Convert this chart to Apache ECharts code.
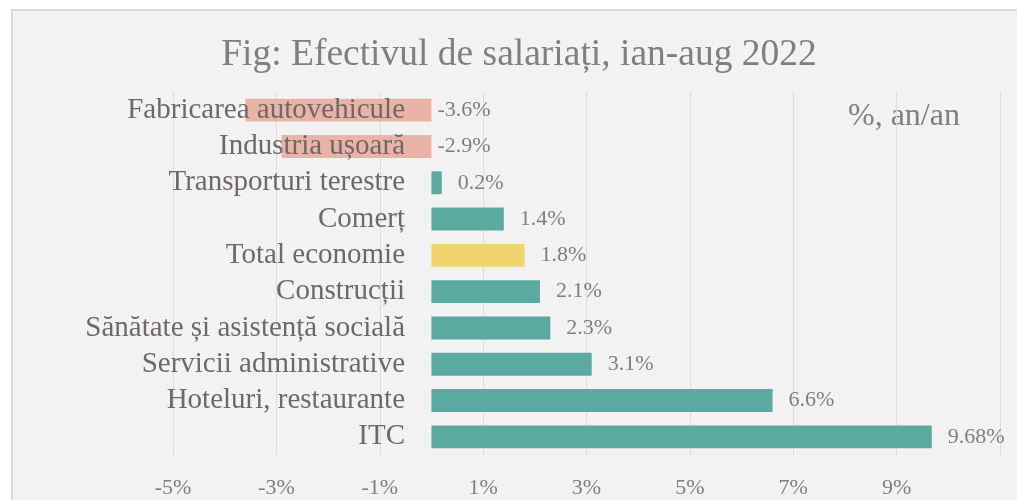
<!DOCTYPE html>
<html>
<head>
<meta charset="utf-8">
<script src="https://cdn.jsdelivr.net/npm/echarts@6/dist/echarts.min.js"></script>
<style>
  html, body { margin: 0; padding: 0; background: #ffffff; overflow: hidden; }
  #frame { position: absolute; left: 11px; top: 9px; width: 1030px; height: 520px;
           background: #f2f2f2; border: 2px solid #d9d9d9; box-sizing: border-box; }
  #chart { position: absolute; left: 0; top: 0; width: 1017px; height: 500px; }
</style>
</head>
<body>
<div id="frame"></div>
<div id="chart"></div>
<script>
// bottom to top, as the category axis draws them
const categories = ['ITC', 'Hoteluri, restaurante', 'Servicii administrative',
  'Sănătate și asistență socială', 'Construcții', 'Total economie', 'Comerț',
  'Transporturi terestre', 'Industria ușoară', 'Fabricarea autovehicule'];
const values = [9.68, 6.6, 3.1, 2.3, 2.1, 1.8, 1.4, 0.2, -2.9, -3.6];
const xTicks = [-5, -3, -1, 1, 3, 5, 7, 9];

const serif = 'Liberation Serif';
const chart = echarts.init(document.getElementById('chart'));

const barData = values.map((v, i) => {
  let color = '#5baaa1';
  if (v < 0) color = '#e9b3a7';
  if (categories[i] === 'Total economie') color = '#f2d46f';
  return {
    value: v,
    itemStyle: { color: color },
    label: { distance: v < 0 ? 6 : 16 }
  };
});

chart.setOption({
  backgroundColor: 'transparent',
  animation: false,
  title: {
    text: 'Fig: Efectivul de salariați, ian-aug 2022',
    left: 514,
    top: 31,
    textAlign: 'center',
    textStyle: { fontFamily: serif, fontSize: 37.5, fontWeight: 'normal', color: '#7f7f7f' }
  },
  graphic: [{
    type: 'text',
    left: 848,
    top: 101,
    style: { text: '%, an/an', font: '32px "Liberation Serif"', fill: '#7f7f7f' }
  }],
  grid: { left: 173, right: 17, top: 92, bottom: 45, containLabel: false, outerBoundsMode: 'none' },
  xAxis: {
    type: 'value',
    min: -5,
    max: 11,
    interval: 2,
    axisLine: { show: false },
    axisTick: { show: false },
    axisLabel: {
      margin: 22,
      fontFamily: serif, fontSize: 22, color: '#7f7f7f',
      formatter: v => xTicks.includes(v) ? v + '%' : ''
    },
    splitLine: { lineStyle: { color: '#dcdcdc', width: 1 } }
  },
  yAxis: {
    type: 'category',
    data: categories,
    // labels sit at the zero line, drawn over the negative bars
    offset: -258,
    z: 10,
    axisLine: { show: false, onZero: false },
    axisTick: { show: false },
    axisLabel: { interval: 0, margin: 26, fontFamily: serif, fontSize: 29, color: '#6e6868' }
  },
  series: [{
    type: 'bar',
    data: barData,
    barCategoryGap: '37%',
    label: {
      show: true,
      position: 'right',
      fontFamily: serif,
      fontSize: 22,
      color: '#7f7f7f',
      formatter: p => p.value + '%'
    }
  }]
});
</script>
</body>
</html>
